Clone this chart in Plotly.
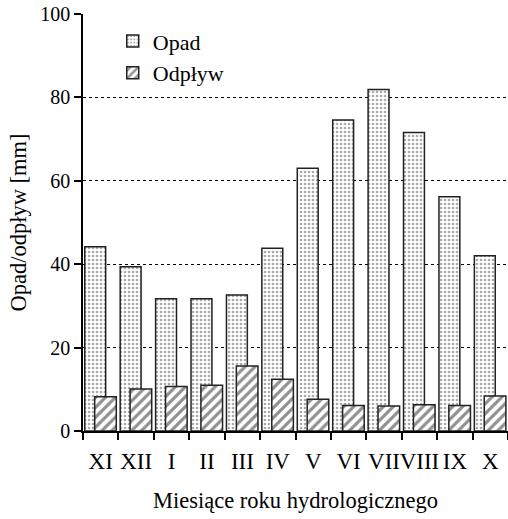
import plotly.graph_objects as go

months = ["XI", "XII", "I", "II", "III", "IV", "V", "VI", "VII", "VIII", "IX", "X"]
opad = [44.2, 39.4, 31.7, 31.7, 32.6, 43.8, 63.0, 74.6, 81.9, 71.6, 56.2, 42.0]
odplyw = [8.2, 10.1, 10.7, 11.0, 15.6, 12.4, 7.6, 6.1, 6.0, 6.3, 6.1, 8.4]

font = "Liberation Serif"

fig = go.Figure()
fig.add_trace(go.Bar(
    x=months, y=opad, name="Opad", width=0.59, offset=-0.45,
    marker=dict(color="white", line=dict(color="#222", width=1.5),
                pattern=dict(shape=".", fgcolor="#555", bgcolor="white", size=4, solidity=0.35)),
    legendgroup="a",
))
fig.add_trace(go.Bar(
    x=months, y=odplyw, name="Odpływ", width=0.61, offset=-0.17,
    marker=dict(color="white", line=dict(color="#222", width=1.5),
                pattern=dict(shape="/", fgcolor="#222", bgcolor="white", size=7, solidity=0.45)),
    legendgroup="b",
))

fig.update_layout(
    width=508, height=519,
    margin=dict(l=83, r=0, t=14, b=88),
    barmode="overlay",
    plot_bgcolor="white", paper_bgcolor="white",
    font=dict(family=font, size=22, color="black"),
    showlegend=True,
    legend=dict(x=0.07, y=0.985, xanchor="left", yanchor="top",
                bgcolor="rgba(0,0,0,0)", font=dict(size=22, family=font),
                tracegroupgap=13, traceorder="normal", itemwidth=30),
    xaxis=dict(
        showline=True, linecolor="black", linewidth=1.5,
        ticks="outside", tickson="boundaries", ticklen=7, tickcolor="black", tickwidth=1.5,
        showgrid=False, tickangle=0, ticklabelstandoff=9,
        title=dict(text="Miesiące roku hydrologicznego", standoff=19, font=dict(size=22.5, family=font)),
        tickfont=dict(size=23, family=font),
    ),
    yaxis=dict(
        range=[0, 100], tickvals=[0, 20, 40, 60, 80, 100],
        showline=True, linecolor="black", linewidth=1.5,
        ticks="outside", ticklen=7, tickcolor="black", tickwidth=1.5,
        showgrid=True, gridcolor="black", gridwidth=1, griddash="dot",
        zeroline=False,
        title=dict(text="Opad/odpływ [mm]", standoff=7, font=dict(size=22.5, family=font)),
        tickfont=dict(size=20, family=font),
    ),
)

fig.write_html("out.html")
